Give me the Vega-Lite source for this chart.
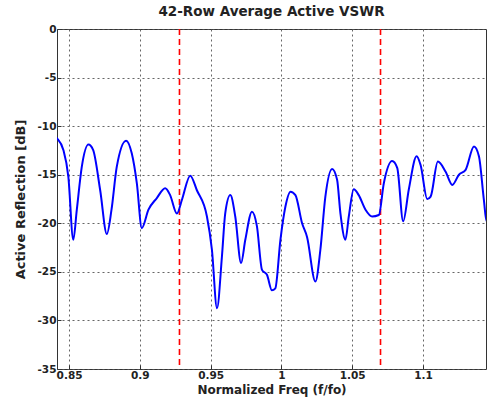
{
  "$schema": "https://vega.github.io/schema/vega-lite/v6.json",
  "autosize": "none",
  "width": 429,
  "height": 340,
  "padding": {"left": 57, "top": 29, "right": 7, "bottom": 41},
  "background": "white",
  "title": {"text": "42-Row Average Active VSWR", "font": "DejaVu Sans", "fontSize": 13.5, "fontWeight": "bold", "color": "#222", "offset": 6},
  "config": {
    "view": {"stroke": "#333", "strokeWidth": 1},
    "axis": {
      "labelFont": "DejaVu Sans", "labelFontSize": 10.5, "labelFontWeight": "bold", "labelColor": "#222",
      "titleFont": "DejaVu Sans", "titleFontSize": 12, "titleFontWeight": "bold", "titleColor": "#222",
      "grid": true, "gridColor": "#555", "gridDash": [2, 3], "gridWidth": 1, "gridOpacity": 0.9,
      "domain": false, "tickColor": "#333", "tickSize": -4, "labelPadding": 5
    }
  },
  "datasets": {
    "curve": [
      {"f": 0.8405, "db": -11.1},
      {"f": 0.8415, "db": -11.25},
      {"f": 0.846, "db": -12.45},
      {"f": 0.8495, "db": -15.2},
      {"f": 0.853, "db": -21.7},
      {"f": 0.8555, "db": -18.6},
      {"f": 0.859, "db": -14.2},
      {"f": 0.8637, "db": -11.9},
      {"f": 0.867, "db": -12.45},
      {"f": 0.872, "db": -16.6},
      {"f": 0.8767, "db": -21.1},
      {"f": 0.88, "db": -18.6},
      {"f": 0.8837, "db": -14.2},
      {"f": 0.8903, "db": -11.5},
      {"f": 0.8943, "db": -12.8},
      {"f": 0.8979, "db": -15.9},
      {"f": 0.9014, "db": -20.5},
      {"f": 0.9061, "db": -18.6},
      {"f": 0.912, "db": -17.4},
      {"f": 0.9179, "db": -16.4},
      {"f": 0.9214, "db": -17.1},
      {"f": 0.9262, "db": -19.0},
      {"f": 0.9297, "db": -17.6},
      {"f": 0.9356, "db": -15.1},
      {"f": 0.9403, "db": -16.6},
      {"f": 0.9474, "db": -19.3},
      {"f": 0.9509, "db": -22.7},
      {"f": 0.9545, "db": -28.75},
      {"f": 0.958, "db": -23.4},
      {"f": 0.9603, "db": -19.0},
      {"f": 0.9639, "db": -17.1},
      {"f": 0.9674, "db": -19.3},
      {"f": 0.9715, "db": -24.1},
      {"f": 0.9745, "db": -21.7},
      {"f": 0.9792, "db": -18.8},
      {"f": 0.9827, "db": -20.3},
      {"f": 0.9863, "db": -24.8},
      {"f": 0.9898, "db": -25.3},
      {"f": 0.9933, "db": -26.9},
      {"f": 0.9957, "db": -26.7},
      {"f": 0.9993, "db": -21.7},
      {"f": 1.0028, "db": -18.3},
      {"f": 1.0064, "db": -16.75},
      {"f": 1.0099, "db": -17.1},
      {"f": 1.0146, "db": -20.0},
      {"f": 1.0181, "db": -21.4},
      {"f": 1.024, "db": -26.0},
      {"f": 1.0275, "db": -22.75},
      {"f": 1.031, "db": -17.3},
      {"f": 1.0358, "db": -14.4},
      {"f": 1.0393, "db": -15.5},
      {"f": 1.0417, "db": -19.0},
      {"f": 1.0452, "db": -21.7},
      {"f": 1.0476, "db": -19.3},
      {"f": 1.0511, "db": -16.5},
      {"f": 1.0546, "db": -17.1},
      {"f": 1.0594, "db": -18.6},
      {"f": 1.0641, "db": -19.3},
      {"f": 1.0688, "db": -19.15},
      {"f": 1.0723, "db": -15.9},
      {"f": 1.0782, "db": -13.6},
      {"f": 1.0818, "db": -14.3},
      {"f": 1.086, "db": -19.8},
      {"f": 1.09, "db": -16.5},
      {"f": 1.0955, "db": -13.1},
      {"f": 1.0983, "db": -14.0},
      {"f": 1.103, "db": -17.5},
      {"f": 1.1054, "db": -17.25},
      {"f": 1.1105, "db": -13.65},
      {"f": 1.116, "db": -14.7},
      {"f": 1.1207, "db": -16.05},
      {"f": 1.1254, "db": -15.0},
      {"f": 1.1301, "db": -14.5},
      {"f": 1.136, "db": -12.1},
      {"f": 1.1395, "db": -13.1},
      {"f": 1.143, "db": -17.6},
      {"f": 1.1449, "db": -19.8},
      {"f": 1.146, "db": -18.0}
    ],
    "markers": [{"f": 0.928}, {"f": 1.07}]
  },
  "layer": [
    {
      "data": {"name": "markers"},
      "mark": {"type": "rule", "color": "#ff0000", "strokeWidth": 1.6, "strokeDash": [6, 4]},
      "encoding": {
        "x": {"field": "f", "type": "quantitative"}
      }
    },
    {
      "data": {"name": "curve"},
      "mark": {"type": "line", "color": "#0000ff", "strokeWidth": 2, "clip": true, "interpolate": "monotone"},
      "encoding": {
        "x": {"field": "f", "type": "quantitative", "title": "Normalized Freq (f/fo)",
              "scale": {"domain": [0.8415, 1.1445], "nice": false, "zero": false},
              "axis": {"values": [0.85, 0.9, 0.95, 1, 1.05, 1.1], "format": "~g", "titlePadding": 4}},
        "y": {"field": "db", "type": "quantitative", "title": "Active Reflection [dB]",
              "scale": {"domain": [-35, 0], "nice": false},
              "axis": {"values": [-35, -30, -25, -20, -15, -10, -5, 0], "labelExpr": "'' + datum.value", "titlePadding": 10, "titleFontSize": 13}}
      }
    }
  ]
}
